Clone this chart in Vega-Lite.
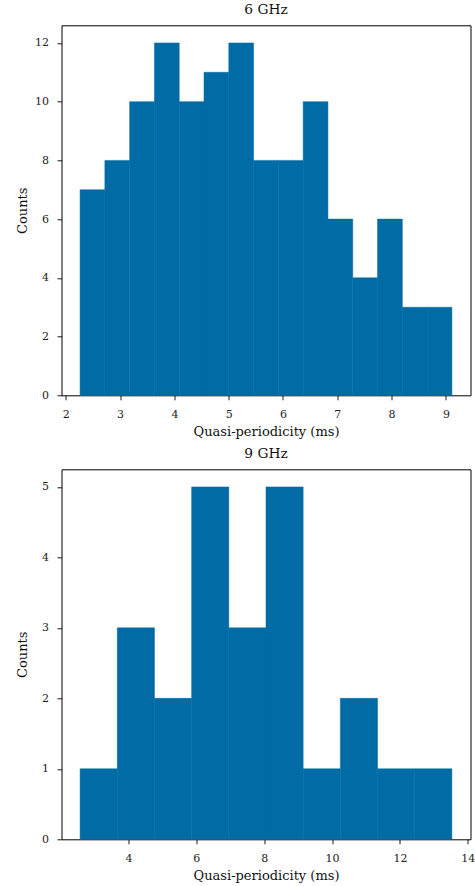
{
  "$schema": "https://vega.github.io/schema/vega-lite/v6.json",
  "autosize": {"type": "none"},
  "padding": {"left": 61.5, "top": 25.3, "right": 413.5, "bottom": 860.7},
  "background": "white",
  "config": {
    "font": "DejaVu Serif",
    "view": {"stroke": "#000000", "strokeWidth": 1},
    "axis": {
      "grid": false,
      "domain": false,
      "tickColor": "#000000",
      "tickSize": 4.5,
      "tickWidth": 0.9,
      "labelFont": "DejaVu Serif",
      "labelFontSize": 11,
      "labelColor": "#222222",
      "titleFont": "DejaVu Serif",
      "titleFontSize": 13,
      "titleFontWeight": "normal",
      "titleColor": "#111111"
    },
    "axisX": {"labelPadding": 17.8, "labelBaseline": "alphabetic", "titleY": 40.5, "titleBaseline": "alphabetic"},
    "axisY": {"labelPadding": 8.5, "titleX": -35.5, "titleBaseline": "alphabetic"},
    "title": {"font": "DejaVu Serif", "fontSize": 13.8, "fontWeight": "normal", "color": "#111111", "baseline": "alphabetic", "offset": 8.6}
  },
  "datasets": {
    "ghz6": [
      {"x0": 2.263, "x1": 2.7195, "count": 7},
      {"x0": 2.7195, "x1": 3.176, "count": 8},
      {"x0": 3.176, "x1": 3.6325, "count": 10},
      {"x0": 3.6325, "x1": 4.089, "count": 12},
      {"x0": 4.089, "x1": 4.5455, "count": 10},
      {"x0": 4.5455, "x1": 5.002, "count": 11},
      {"x0": 5.002, "x1": 5.4585, "count": 12},
      {"x0": 5.4585, "x1": 5.915, "count": 8},
      {"x0": 5.915, "x1": 6.3715, "count": 8},
      {"x0": 6.3715, "x1": 6.828, "count": 10},
      {"x0": 6.828, "x1": 7.2845, "count": 6},
      {"x0": 7.2845, "x1": 7.741, "count": 4},
      {"x0": 7.741, "x1": 8.1975, "count": 6},
      {"x0": 8.1975, "x1": 8.654, "count": 3},
      {"x0": 8.654, "x1": 9.1105, "count": 3}
    ],
    "ghz9": [
      {"x0": 2.576, "x1": 3.6715, "count": 1},
      {"x0": 3.6715, "x1": 4.767, "count": 3},
      {"x0": 4.767, "x1": 5.8625, "count": 2},
      {"x0": 5.8625, "x1": 6.958, "count": 5},
      {"x0": 6.958, "x1": 8.0535, "count": 3},
      {"x0": 8.0535, "x1": 9.149, "count": 5},
      {"x0": 9.149, "x1": 10.2445, "count": 1},
      {"x0": 10.2445, "x1": 11.34, "count": 2},
      {"x0": 11.34, "x1": 12.4355, "count": 1},
      {"x0": 12.4355, "x1": 13.531, "count": 1}
    ]
  },
  "vconcat": [
    {
      "title": "6 GHz",
      "width": 409,
      "height": 370,
      "data": {"name": "ghz6"},
      "mark": {"type": "bar", "color": "#006BA4", "stroke": "#006BA4", "strokeWidth": 0.5, "opacity": 1, "fillOpacity": 1, "strokeOpacity": 1},
      "encoding": {
        "x": {"field": "x0", "type": "quantitative", "scale": {"domain": [1.921, 9.453], "nice": false, "zero": false},
              "axis": {"values": [2, 3, 4, 5, 6, 7, 8, 9], "title": "Quasi-periodicity (ms)"}},
        "x2": {"field": "x1"},
        "y": {"field": "count", "type": "quantitative", "scale": {"domain": [0, 12.6], "nice": false},
              "axis": {"values": [0, 2, 4, 6, 8, 10, 12], "title": "Counts"}},
        "y2": {"datum": 0}
      }
    },
    {
      "title": "9 GHz",
      "width": 409,
      "height": 370,
      "data": {"name": "ghz9"},
      "mark": {"type": "bar", "color": "#006BA4", "stroke": "#006BA4", "strokeWidth": 0.5, "opacity": 1, "fillOpacity": 1, "strokeOpacity": 1},
      "encoding": {
        "x": {"field": "x0", "type": "quantitative", "scale": {"domain": [2.028, 14.08], "nice": false, "zero": false},
              "axis": {"values": [4, 6, 8, 10, 12, 14], "title": "Quasi-periodicity (ms)"}},
        "x2": {"field": "x1"},
        "y": {"field": "count", "type": "quantitative", "scale": {"domain": [0, 5.25], "nice": false},
              "axis": {"values": [0, 1, 2, 3, 4, 5], "title": "Counts"}},
        "y2": {"datum": 0}
      }
    }
  ],
  "bounds": "flush",
  "spacing": 74
}
